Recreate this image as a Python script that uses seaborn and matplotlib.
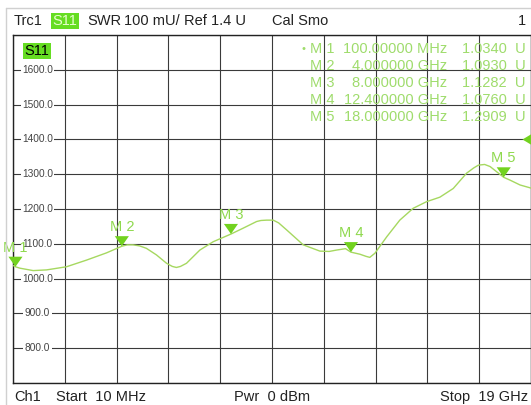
import matplotlib
matplotlib.use("Agg")
import matplotlib.pyplot as plt
import matplotlib.path as mpath
from matplotlib.lines import Line2D
import matplotlib.transforms as mtransforms
import seaborn as sns
import pandas as pd

# trace S11 (SWR), frequency in GHz, value in mU
freq_ghz = [0.01, 0.1, 0.26, 0.75, 1.24, 1.97, 2.70, 3.44, 4.0, 4.2, 4.41, 4.65, 4.90,
            5.27, 5.64, 5.85, 6.0, 6.15, 6.37, 6.86, 7.35, 8.0, 8.45, 8.94, 9.1, 9.31,
            9.55, 9.75, 10.04, 10.65, 11.26, 11.6, 11.87, 12.2, 12.4, 12.73, 12.95,
            13.09, 13.28, 13.71, 14.19, 14.68, 15.17, 15.66, 16.15, 16.64, 16.9,
            17.07, 17.3, 17.5, 18.0, 18.23, 18.6, 18.96, 19.0]
swr_mu = [1038, 1034, 1030, 1023, 1025, 1034, 1053, 1074, 1093, 1097, 1097, 1094, 1087,
          1068, 1044, 1035, 1032, 1035, 1044, 1082, 1106, 1128, 1145, 1164, 1167, 1168,
          1168, 1160, 1140, 1097, 1079, 1078, 1082, 1086, 1076, 1070, 1064,
          1061, 1073, 1120, 1168, 1202, 1221, 1234, 1259, 1303, 1318,
          1326, 1328, 1322, 1291, 1283, 1269, 1261, 1260]

# markers
marker_names = ["M 1", "M 2", "M 3", "M 4", "M 5"]
marker_freq = [0.1, 4.0, 8.0, 12.4, 18.0]
marker_swr = [1.0340, 1.0930, 1.1282, 1.0760, 1.2909]
marker_freq_txt = ["100.00000 MHz", "4.000000 GHz", "8.000000 GHz",
                   "12.400000 GHz", "18.000000 GHz"]

y_ticks = [800, 900, 1000, 1100, 1200, 1300, 1400, 1500, 1600]
ref_level = 1400

df = pd.DataFrame({"f": freq_ghz, "swr": swr_mu})
mk = pd.DataFrame({"f": marker_freq, "swr": [v * 1000 for v in marker_swr]})

sns.set_style("white")
plt.rcParams["font.family"] = ["Liberation Sans", "DejaVu Sans"]

trace_col = "#a6d860"
mark_col = "#72d21f"
mtext_col = "#8fd94e"
tab_col = "#9fdc6c"
fs = 10.5

fig = plt.figure(figsize=(5.31, 4.05), dpi=100)
ax = fig.add_axes([13 / 531, 22 / 405, 518 / 531, 348 / 405])

sns.lineplot(data=df, x="f", y="swr", ax=ax, color=trace_col, lw=1.0, zorder=3)

tri_down = mpath.Path([(0, 0), (-0.7, 1), (0.7, 1), (0, 0)], closed=True)
sns.scatterplot(data=mk, x="f", y="swr", ax=ax, marker=tri_down, s=210,
                color=mark_col, edgecolor="none", linewidth=0, zorder=5,
                clip_on=False)
for name, f, v in zip(marker_names, marker_freq, marker_swr):
    ax.annotate(name, xy=(f, v * 1000), xytext=(0, 13.7), textcoords="offset points",
                ha="center", va="center", fontsize=fs, color=mtext_col,
                annotation_clip=False, zorder=6)

# reference level triangle on the right
tri_left = mpath.Path([(-1, 0), (0, 0.6), (0, -0.6), (-1, 0)], closed=True)
blend = mtransforms.blended_transform_factory(ax.transAxes, ax.transData)
ax.plot([1.0], [ref_level], marker=tri_left, ms=13, color=mark_col, mec="none",
        transform=blend, clip_on=False, zorder=6)

ax.set_xlim(0.01, 19)
ax.set_ylim(700, 1700)
ax.set_xticks([0.01 + k * (19 - 0.01) / 10 for k in range(11)])
ax.set_yticks(range(700, 1701, 100))
ax.tick_params(length=0, labelbottom=False, labelleft=False)
ax.grid(True, color="#3a3a3a", lw=0.8)
for s in ax.spines.values():
    s.set_color("#222222")
    s.set_linewidth(1.0)
ax.set_xlabel("")
ax.set_ylabel("")

for t in y_ticks:
    ax.text(0.0473, t, f"{t:.1f}", transform=blend, ha="center", va="center",
            fontsize=7.3, color="#444444", zorder=4,
            bbox=dict(facecolor="white", edgecolor="none", pad=1.0))

ax.text(24 / 518, 1 - (51 - 35) / 348, "S11",
        transform=ax.transAxes, ha="center", va="center", fontsize=fs,
        color="black", zorder=7,
        bbox=dict(facecolor="#66dd22", edgecolor="none", pad=1.0))

# marker table
W, H = 531, 405
rows_y = [49, 66, 83, 100, 117]
for i, (name, ftxt, v) in enumerate(zip(marker_names, marker_freq_txt, marker_swr)):
    yy = 1 - rows_y[i] / H
    if i == 0:
        fig.text(304 / W, yy, "\u2022", ha="center", va="center", fontsize=8, color=tab_col)
    fig.text(310 / W, yy, name, ha="left", va="center", fontsize=fs, color=tab_col)
    fig.text(447 / W, yy, ftxt, ha="right", va="center", fontsize=fs, color=tab_col)
    fig.text(526 / W, yy, f"{v:.4f}  U", ha="right", va="center", fontsize=fs, color=tab_col)

# header
hy = 1 - 21 / H
fig.text(14 / W, hy, "Trc1", ha="left", va="center", fontsize=fs, color="#222222")
fig.text(65 / W, hy, "S11", ha="center", va="center", fontsize=fs, color="#e6ffcc",
         bbox=dict(facecolor="#66dd22", edgecolor="none", pad=1.0))
fig.text(87 / W, hy, "SWR", ha="left", va="center", fontsize=fs, color="#222222")
fig.text(124 / W, hy, "100 mU/", ha="left", va="center", fontsize=fs, color="#222222")
fig.text(184 / W, hy, "Ref 1.4 U", ha="left", va="center", fontsize=fs, color="#222222")
fig.text(272 / W, hy, "Cal Smo", ha="left", va="center", fontsize=fs, color="#222222")
fig.text(526 / W, hy, "1", ha="right", va="center", fontsize=fs, color="#222222")

# footer
fy = 1 - 397 / H
fig.text(14 / W, fy, "Ch1", ha="left", va="center", fontsize=fs, color="#222222")
fig.text(56 / W, fy, "Start  10 MHz", ha="left", va="center", fontsize=fs, color="#222222")
fig.text(234 / W, fy, "Pwr  0 dBm", ha="left", va="center", fontsize=fs, color="#222222")
fig.text(528 / W, fy, "Stop  19 GHz", ha="right", va="center", fontsize=fs, color="#222222")

# light frame
fig.add_artist(Line2D([6 / W, 1], [1 - 8 / H, 1 - 8 / H], transform=fig.transFigure,
                      color="#d0d0d0", lw=1))
fig.add_artist(Line2D([6 / W, 6 / W], [0, 1 - 8 / H], transform=fig.transFigure,
                      color="#d0d0d0", lw=1))

fig.savefig("out.png", dpi=100)
